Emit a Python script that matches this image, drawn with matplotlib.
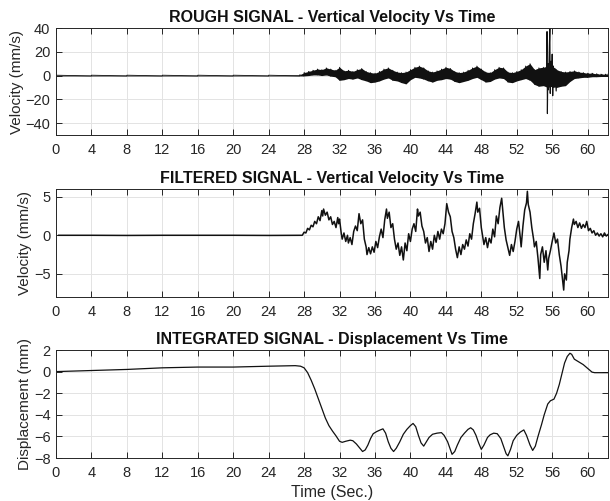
import numpy as np
import matplotlib
matplotlib.use("Agg")
import matplotlib.pyplot as plt

plt.rcParams['font.family'] = ['Liberation Sans', 'DejaVu Sans']

# --- Données ---
# Signal brut : enveloppe (min / max) tous les 0.5 s
rough_t = [0, 4, 8, 12, 16, 20, 24, 27.5, 28.0, 28.5, 29.0, 29.5, 30.0, 30.5, 31.0, 31.5,
           32.0, 32.5, 33.0, 33.5, 34.0, 34.5, 35.0, 35.5, 36.0, 36.5, 37.0, 37.5, 38.0,
           38.5, 39.0, 39.5, 40.0, 40.5, 41.0, 41.5, 42.0, 42.5, 43.0, 43.5, 44.0, 44.5,
           45.0, 45.5, 46.0, 46.5, 47.0, 47.5, 48.0, 48.5, 49.0, 49.5, 50.0, 50.5, 51.0,
           51.5, 52.0, 52.5, 53.0, 53.5, 54.0, 54.5, 55.0, 55.5, 56.0, 56.5, 57.0, 57.5,
           58.0, 58.5, 59.0, 59.5, 60.0, 60.5, 61.0, 61.5, 62.0, 62.3]
rough_lo = [-0.3, -0.3, -0.3, -0.3, -0.3, -0.3, -0.3, -0.3, -0.3, 0.0, 0.5, 0.5, 0.0, 0.5,
            -0.5, -1.0, -4.0, -3.5, -2.5, -3.0, -2.0, -3.5, -4.5, -6.0, -5.5, -4.5, -3.0,
            -2.0, -4.0, -4.5, -6.0, -7.0, -3.5, -1.5, -2.0, -3.0, -4.5, -5.5, -4.0, -3.5,
            -2.5, -3.0, -5.0, -6.0, -5.0, -4.0, -2.5, -1.5, -3.5, -5.5, -5.0, -3.0, -2.0,
            -2.5, -5.5, -6.0, -4.5, -3.5, -2.5, -4.0, -7.5, -9.0, -8.5, -10.0, -9.0, -10.0,
            -9.0, -8.5, -5.0, -2.5, -2.0, -1.5, -1.5, -1.0, -1.0, -0.8, -0.8, -0.8]
rough_hi = [0.3, 0.3, 0.3, 0.3, 0.3, 0.3, 0.3, 0.6, 2.5, 3.5, 4.5, 5.5, 5.0, 6.5, 5.5, 4.5,
            7.0, 4.0, 4.5, 3.5, 5.0, 6.0, 3.5, 2.5, 2.0, 3.5, 5.5, 6.5, 4.5, 3.0, 2.5, 3.0,
            5.0, 7.0, 8.0, 6.5, 4.0, 3.0, 4.0, 5.5, 7.0, 6.0, 3.5, 2.5, 3.0, 4.5, 6.5, 8.0,
            5.5, 3.0, 2.5, 5.0, 7.0, 6.5, 3.0, 2.5, 3.5, 5.0, 8.0, 10.0, 5.0, 6.5, 7.0, 8.0,
            8.0, 5.0, 3.5, 3.0, 3.5, 4.0, 3.0, 2.5, 2.0, 2.0, 1.5, 1.2, 1.2, 1.2]
# Pics du signal brut vers 55-56 s
spike_t = [55.35, 55.42, 55.46, 55.52, 55.58, 55.68, 55.74, 55.78, 55.86, 55.92, 56.0,
           56.06, 56.14, 56.22, 56.3, 56.45, 56.55]
spike_v = [0, 37, -32, 10, -12, 25, 40, -15, 12, -8, 18, -17, 8, -10, 6, -13, 2]

# Signal filtré
filt_t = [0.3, 4, 8, 12, 16, 20, 24, 27.5, 27.8,
          28.0, 28.2, 28.4, 28.6, 28.8, 29.0, 29.2, 29.4, 29.6, 29.8, 30.0, 30.1, 30.2,
          30.4, 30.6, 30.8, 31.0, 31.2, 31.4, 31.6, 31.8, 31.9, 32.0, 32.2, 32.3, 32.5,
          32.7, 32.9, 33.0, 33.2, 33.4, 33.6, 33.8, 34.0, 34.2, 34.4, 34.6, 34.8, 35.0,
          35.1, 35.3, 35.5, 35.7, 35.9, 36.1, 36.3, 36.5, 36.7, 36.9, 37.1, 37.3, 37.4,
          37.6, 37.8, 38.0, 38.2, 38.4, 38.6, 38.8, 39.0, 39.2, 39.4, 39.6, 39.8, 40.0,
          40.2, 40.4, 40.6, 40.8, 40.9, 41.1, 41.3, 41.5, 41.7, 41.9, 42.1, 42.3, 42.5,
          42.7, 42.9, 43.1, 43.3, 43.5, 43.7, 43.9, 44.1, 44.3, 44.5, 44.7, 44.9, 45.1,
          45.3, 45.5, 45.7, 45.9, 46.1, 46.3, 46.5, 46.7, 46.9, 47.1, 47.3, 47.5, 47.6,
          47.8, 48.0, 48.2, 48.3, 48.5, 48.7, 48.9, 49.1, 49.3, 49.5, 49.7, 49.9, 50.1,
          50.3, 50.4, 50.6, 50.8, 51.0, 51.2, 51.4, 51.6, 51.8, 52.0, 52.2, 52.4, 52.5,
          52.7, 52.9, 53.1, 53.2, 53.3, 53.5, 53.7, 53.9, 54.0, 54.2, 54.4, 54.6, 54.7,
          54.9, 55.1, 55.3, 55.5, 55.6, 55.8, 56.0, 56.2, 56.4, 56.6, 56.8, 57.0, 57.2,
          57.3, 57.4, 57.6, 57.7, 57.9, 58.0, 58.2, 58.4, 58.5, 58.7, 58.9, 59.1, 59.3,
          59.5, 59.7, 59.9, 60.1, 60.3, 60.5, 60.7, 60.9, 61.1, 61.3, 61.5, 61.7, 61.9,
          62.1, 62.3]
filt_v = [0.0, 0.0, -0.02, 0.0, 0.0, 0.0, -0.02, 0.0, 0.0,
          0.4, 0.3, 0.9, 0.7, 1.3, 1.1, 1.8, 1.5, 2.4, 1.9, 3.2, 2.5, 3.4,
          2.6, 3.0, 2.0, 2.4, 1.4, 1.8, 1.0, 2.3, 1.5, 2.1, 0.2, -0.5, 0.3,
          -0.8, 0.0, -1.0, -0.3, -1.2, 0.5, 1.2, 0.6, 2.8, 1.5, 2.0, -0.5, -1.5,
          -2.5, -1.6, -2.4, -1.5, -2.2, -0.8, -1.6, -0.2, 0.8, -0.3, 2.0, 3.4, 2.2,
          3.0, 1.0, 1.5, -0.5, -1.8, -1.0, -2.6, -1.5, -3.2, -1.0, -2.0, 0.2, -0.8,
          0.8, 1.5, 0.5, 3.4, 2.5, 3.0, 1.2, 0.5, -1.0, -0.3, -2.1, -0.8, -1.8,
          0.0, -0.9, 0.5, -0.5, 0.8, 0.2, 1.5, 4.1, 3.0, 2.4, 0.5, -0.3, -1.8,
          -2.9, -1.5, -2.5, -1.2, -1.8, -0.6, -1.4, 0.2, -0.5, 1.5, 2.8, 4.3, 3.0,
          3.5, 1.0, -0.5, -1.2, -0.3, -1.6, -0.4, -1.0, 0.8, -0.2, 2.5, 1.5, 3.6,
          4.8, 3.5, 1.0, -0.6, -1.6, -2.6, -1.2, -2.1, -0.8, 0.8, 1.8, -0.3, -1.5,
          1.2, 3.3, 4.2, 5.7, 4.0, 3.0, 1.0, -0.5, -1.5, -0.8, -3.0, -5.6, -2.5,
          -1.5, -3.5, -2.0, -4.5, -3.0, -2.0, -0.8, 0.3, -1.0, -0.5, -2.5, -4.0, -6.0,
          -7.1, -5.0, -5.8, -3.5, -2.0, -0.5, 1.0, 2.1, 1.4, 1.8, 1.0, 1.6, 0.9,
          1.4, 1.0, 1.8, 0.6, 0.9, 0.3, 0.6, 0.0, 0.3, -0.1, 0.2, -0.2, 0.3,
          -0.1, 0.1]

# Déplacement intégré
disp_t = [0, 4, 8, 12, 16, 20, 24, 27.0, 27.6, 28.0, 28.4, 28.8, 29.2, 29.6, 30.0, 30.4,
          30.8, 31.2, 31.6, 32.0, 32.3, 32.7, 33.2, 33.5, 33.9, 34.3, 34.6, 34.9, 35.2,
          35.5, 35.8, 36.2, 36.6, 36.9, 37.2, 37.5, 37.8, 38.1, 38.4, 38.8, 39.2, 39.6,
          40.0, 40.3, 40.6, 40.9, 41.2, 41.5, 41.8, 42.1, 42.5, 43.0, 43.5, 43.8, 44.2,
          44.5, 44.7, 45.0, 45.3, 45.7, 46.1, 46.5, 46.8, 47.1, 47.4, 47.7, 48.0, 48.3,
          48.7, 49.0, 49.4, 49.8, 50.2, 50.5, 50.8, 51.0, 51.3, 51.6, 52.0, 52.4, 52.8,
          53.1, 53.5, 53.8, 54.1, 54.4, 54.8, 55.1, 55.5, 55.8, 56.2, 56.5, 56.8, 57.1,
          57.4, 57.7, 58.0, 58.2, 58.5, 59.0, 59.5, 60.0, 60.5, 60.8, 62.3]
disp_v = [0.0, 0.1, 0.2, 0.35, 0.42, 0.42, 0.5, 0.55, 0.5, 0.35, -0.1, -0.8, -1.6, -2.5,
          -3.4, -4.3, -5.0, -5.5, -5.95, -6.45, -6.55, -6.45, -6.35, -6.4, -6.7, -7.1,
          -7.4, -7.25, -6.8, -6.2, -5.75, -5.55, -5.4, -5.3, -5.7, -6.5, -7.1, -7.4,
          -7.1, -6.5, -5.8, -5.35, -5.0, -4.8, -5.1, -5.9, -6.6, -6.9, -6.5, -6.1, -5.8,
          -5.7, -5.65, -5.9, -6.5, -7.2, -7.66, -7.4, -6.8, -6.1, -5.7, -5.35, -5.2,
          -5.4, -5.9, -6.6, -7.2, -6.8, -6.1, -5.85, -5.7, -5.75, -6.2, -6.9, -7.6,
          -7.8, -7.2, -6.4, -5.9, -5.6, -5.4, -5.9, -6.8, -7.3, -6.9, -6.0, -4.9, -4.0,
          -3.0, -2.7, -2.55, -2.0, -1.2, -0.2, 0.8, 1.4, 1.7, 1.6, 1.15, 0.9, 0.65,
          0.3, -0.05, -0.1, -0.1]

# --- Figure ---
fig = plt.figure(figsize=(6.10, 5.01), dpi=100)
left, width = 56 / 610, 552 / 610
ax1 = fig.add_axes([left, (501 - 135) / 501, width, 107 / 501])
ax2 = fig.add_axes([left, (501 - 297) / 501, width, 108 / 501])
ax3 = fig.add_axes([left, (501 - 458) / 501, width, 108 / 501])

line_col = '#111111'
title_kw = dict(fontweight='bold', fontsize=11.5, pad=4, color='#111111')

# 1. Signal brut
ax1.fill_between(rough_t, rough_lo, rough_hi, color=line_col, linewidth=0)
zz_t = np.repeat(rough_t, 2)
zz_v = np.column_stack([rough_lo, rough_hi]).ravel()
ax1.plot(zz_t, zz_v, color=line_col, linewidth=0.6)
ax1.plot(spike_t, spike_v, color=line_col, linewidth=0.8)
ax1.set_ylim(-50, 40)
ax1.set_yticks([-40, -20, 0, 20, 40])
ax1.set_ylabel("Velocity (mm/s)", labelpad=1)
ax1.set_title("ROUGH SIGNAL - Vertical Velocity Vs Time", **title_kw)

# 2. Signal filtré
ax2.plot(filt_t, filt_v, color=line_col, linewidth=1.1)
ax2.set_ylim(-8, 6)
ax2.set_yticks([-5, 0, 5])
ax2.set_ylabel("Velocity (mm/s)", labelpad=1)
ax2.set_title("FILTERED SIGNAL - Vertical Velocity Vs Time", **title_kw)

# 3. Déplacement
ax3.plot(disp_t, disp_v, color=line_col, linewidth=0.9)
ax3.set_ylim(-8, 2)
ax3.set_yticks([-8, -6, -4, -2, 0, 2])
ax3.set_ylabel("Displacement (mm)", labelpad=1)
ax3.set_xlabel("Time (Sec.)", labelpad=3)
ax3.set_title("INTEGRATED SIGNAL - Displacement Vs Time", **title_kw)

for ax in (ax1, ax2, ax3):
    ax.set_xlim(0, 62.3)
    ax.set_xticks(np.arange(0, 61, 4))
    ax.grid(True, color='#e3e3e3', linewidth=0.7)
    ax.set_axisbelow(True)
    ax.tick_params(direction='in', top=True, right=True, length=4, width=0.7,
                   labelsize=10.5, colors='#262626', labelcolor='#262626')
    ax.tick_params(axis='x', pad=6)
    ax.tick_params(axis='y', pad=4)
    for s in ax.spines.values():
        s.set_color('#262626')
        s.set_linewidth(0.7)
    ax.yaxis.label.set_size(11)
    ax.yaxis.label.set_color('#262626')
    ax.xaxis.label.set_size(11.5)
    ax.xaxis.label.set_color('#262626')

fig.savefig("out.png", dpi=100)
